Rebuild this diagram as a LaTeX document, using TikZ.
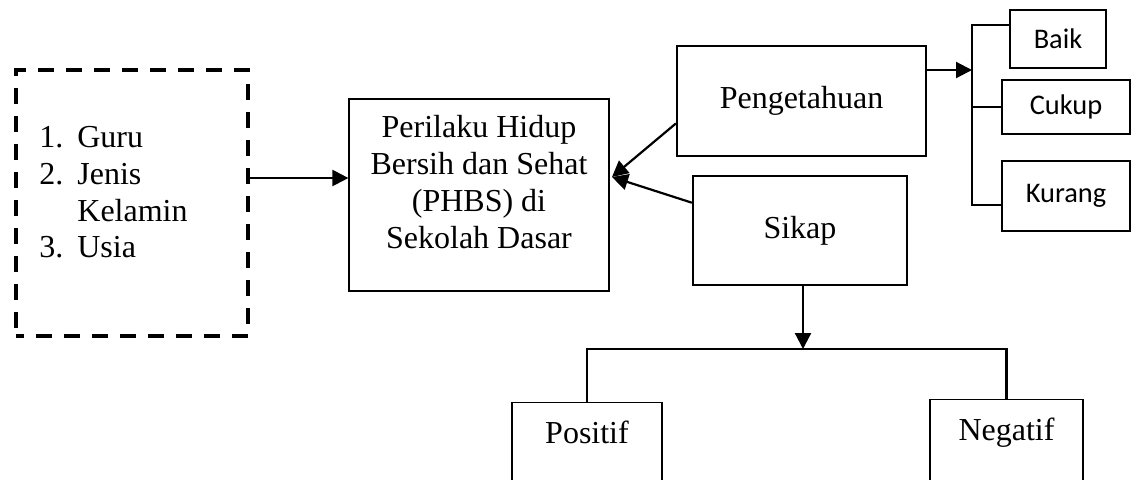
\documentclass[tikz,border=0pt]{standalone}
\usepackage{fontspec}
\setmainfont{Liberation Serif}
\newfontfamily\calibri{Carlito}
\usetikzlibrary{arrows.meta,calc}

\newcommand{\nomor}[1]{\makebox[19pt][l]{#1}}

\begin{document}
\begin{tikzpicture}[x=0.5pt, y=-0.5pt,
  font=\fontsize{16}{18.4}\selectfont,
  thinbox/.style={draw, line width=0.6pt, inner sep=0pt},
  thickbox/.style={draw, line width=1.1pt, inner sep=0pt},
  kelas/.style={thinbox, font=\calibri\fontsize{14.2}{17}\selectfont},
  hasil/.style={thinbox, anchor=north, inner xsep=0pt, inner ysep=9pt, text depth=40pt},
  conn/.style={line width=1.1pt},
  arr/.style={conn, -{Triangle[length=8pt, width=8pt]}}]

\useasboundingbox (0,0) rectangle (1136,479);

\node (faktor) [draw, dash pattern=on 8pt off 6pt, dash phase=4pt, line width=2pt, minimum width=116pt, minimum height=133pt] at (132,203) {};
\node (daftar) [anchor=north west, inner sep=0pt, align=left] at (39,126) {\nomor{1.}Guru\\ \nomor{2.}Jenis\\ \nomor{}Kelamin\\ \nomor{3.}Usia};

\node (phbs) [thinbox, align=center, minimum width=130pt, minimum height=96pt] at (479,195) {Perilaku Hidup\\ Bersih dan Sehat\\ (PHBS) di\\ Sekolah Dasar\rule[-13pt]{0pt}{13pt}};

\node (peng) [thickbox, minimum width=124.5pt, minimum height=55pt] at (801.5,101) {Pengetahuan};
\node (sikap) [thickbox, minimum width=107pt, minimum height=54.5pt] at (800,230.5) {Sikap};

\node (baik) [kelas, minimum width=48pt, minimum height=29pt] at (1058,39) {Baik};
\node (cukup) [kelas, minimum width=64pt, minimum height=27pt] at (1066,107) {Cukup};
\node (kurang) [kelas, minimum width=64pt, minimum height=35pt] at (1066,196) {Kurang};

\node (positif) [hasil, minimum width=75pt] at (587,402) {Positif};
\node (negatif) [hasil, minimum width=76.5pt] at (1006.5,399) {Negatif};

\coordinate (masuk) at (300,178);
\coordinate (tip) at (612,177);
\coordinate (atas) at (972,25);
\coordinate (bawah) at (972,205);
\coordinate (cab) at (972,70);
\coordinate (bar) at (803,349);

\draw [arr] (faktor.east |- masuk) -- (phbs.west |- masuk);
\draw [arr] ($(peng.north west)!0.7!(peng.south west)$) -- (tip);
\draw [arr] ($(sikap.north west)!0.25!(sikap.south west)$) -- (tip);
\draw [arr] (peng.east |- cab) -- (cab);
\draw [conn] (baik.west |- atas) -- (atas) -- (bawah) -- (kurang.west |- bawah);
\draw [conn] (atas |- cukup.west) -- (cukup.west);
\draw [arr] (sikap.south -| bar) -- (bar);
\draw [conn] (positif.north) |- (bar) -| (negatif.north);
\end{tikzpicture}
\end{document}
